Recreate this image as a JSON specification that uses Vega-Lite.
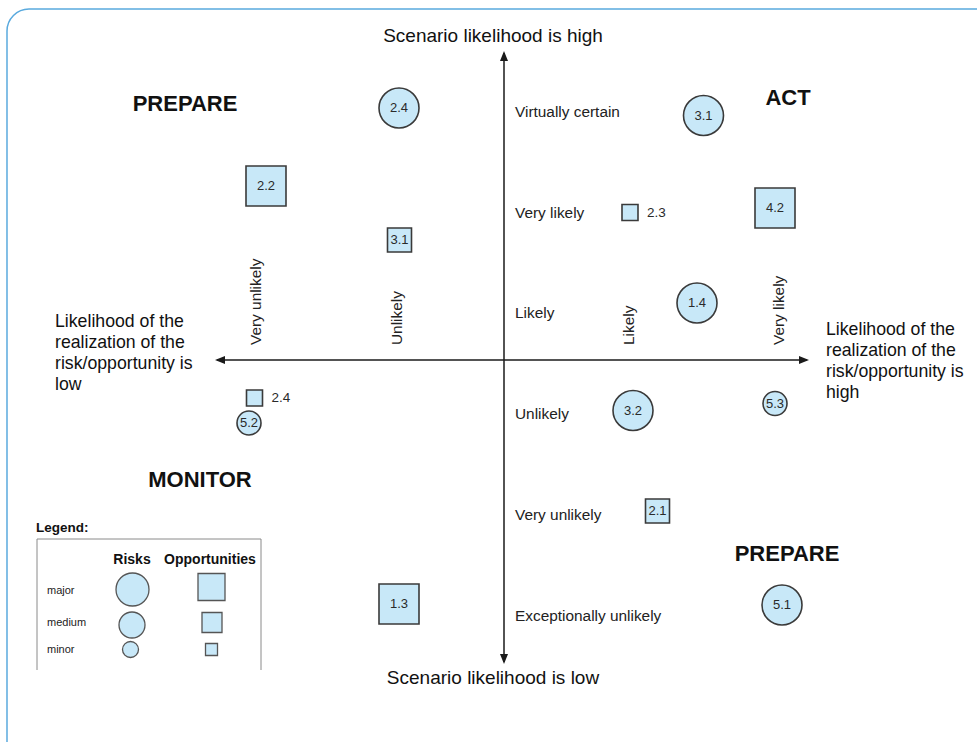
{
  "$schema": "https://vega.github.io/schema/vega-lite/v6.json",
  "width": 977,
  "height": 742,
  "autosize": {"type": "fit", "contains": "padding"},
  "padding": 0,
  "background": "white",
  "config": {"view": {"stroke": null}, "font": "Liberation Sans"},
  "datasets": {
    "border": [{"x": -498, "y": 351, "x2": 500, "y2": -420}],
    "axes": [
      {"x": -288, "y": 0, "x2": 302, "y2": 0},
      {"x": -1, "y": 307, "x2": -1, "y2": -302}
    ],
    "arrows": [
      {"x": -290, "y": 0, "dir": "left"},
      {"x": 304, "y": 0, "dir": "right"},
      {"x": -1, "y": 309, "dir": "up"},
      {"x": -1, "y": -304, "dir": "down"}
    ],
    "markers": [
      {"x": -106, "y": 252, "label": "2.4", "type": "risk", "magnitude": "major"},
      {"x": -239, "y": 174, "label": "2.2", "type": "opportunity", "magnitude": "major"},
      {"x": -105.5, "y": 120, "label": "3.1", "type": "opportunity", "magnitude": "medium"},
      {"x": 125, "y": 147.5, "label": "2.3", "type": "opportunity", "magnitude": "minor"},
      {"x": 198.5, "y": 244.5, "label": "3.1", "type": "risk", "magnitude": "major"},
      {"x": 270, "y": 152, "label": "4.2", "type": "opportunity", "magnitude": "major"},
      {"x": 192, "y": 57, "label": "1.4", "type": "risk", "magnitude": "major"},
      {"x": -250.5, "y": -38, "label": "2.4", "type": "opportunity", "magnitude": "minor"},
      {"x": -256, "y": -63, "label": "5.2", "type": "risk", "magnitude": "medium"},
      {"x": 128, "y": -50.5, "label": "3.2", "type": "risk", "magnitude": "major"},
      {"x": 270, "y": -43.5, "label": "5.3", "type": "risk", "magnitude": "medium"},
      {"x": 152.5, "y": -151, "label": "2.1", "type": "opportunity", "magnitude": "medium"},
      {"x": -106, "y": -244, "label": "1.3", "type": "opportunity", "magnitude": "major"},
      {"x": 277, "y": -245, "label": "5.1", "type": "risk", "magnitude": "major"}
    ],
    "quadrants": [
      {"x": -320, "y": 256, "label": "PREPARE"},
      {"x": 283, "y": 262, "label": "ACT"},
      {"x": -305, "y": -120, "label": "MONITOR"},
      {"x": 282, "y": -194, "label": "PREPARE"}
    ],
    "ends": [
      {"x": -12, "y": 324, "label": "Scenario likelihood is high"},
      {"x": -12, "y": -318, "label": "Scenario likelihood is low"}
    ],
    "sides": [
      {"x": -450, "y": 38, "label": "Likelihood of the\nrealization of the\nrisk/opportunity is\nlow"},
      {"x": 321, "y": 30, "label": "Likelihood of the\nrealization of the\nrisk/opportunity is\nhigh"}
    ],
    "ylevels": [
      {"x": 10, "y": 248, "label": "Virtually certain"},
      {"x": 10, "y": 147, "label": "Very likely"},
      {"x": 10, "y": 47, "label": "Likely"},
      {"x": 10, "y": -54, "label": "Unlikely"},
      {"x": 10, "y": -155, "label": "Very unlikely"},
      {"x": 10, "y": -256, "label": "Exceptionally unlikely"}
    ],
    "xlevels": [
      {"x": -249, "y": 15, "label": "Very unlikely"},
      {"x": -108, "y": 15, "label": "Unlikely"},
      {"x": 124, "y": 15, "label": "Likely"},
      {"x": 274, "y": 15, "label": "Very likely"}
    ],
    "legendBox": [
      {"x": -468, "y": -179, "x2": -244, "y2": -179},
      {"x": -468, "y": -179, "x2": -468, "y2": -310},
      {"x": -244, "y": -179, "x2": -244, "y2": -310}
    ],
    "legendTitle": [{"x": -469, "y": -168, "label": "Legend:"}],
    "legendHeads": [
      {"x": -373, "y": -200, "label": "Risks"},
      {"x": -295, "y": -200, "label": "Opportunities"}
    ],
    "legendRows": [
      {"x": -458, "y": -231, "label": "major"},
      {"x": -458, "y": -263, "label": "medium"},
      {"x": -458, "y": -290, "label": "minor"}
    ],
    "legendMarkers": [
      {"x": -372.5, "y": -229.5, "type": "risk", "magnitude": "major"},
      {"x": -373, "y": -265, "type": "risk", "magnitude": "medium"},
      {"x": -374.5, "y": -289.5, "type": "risk", "magnitude": "minor"},
      {"x": -293.5, "y": -227, "type": "opportunity", "magnitude": "major"},
      {"x": -293, "y": -262.5, "type": "opportunity", "magnitude": "medium"},
      {"x": -293.5, "y": -289.5, "type": "opportunity", "magnitude": "minor"}
    ]
  },
  "encoding": {
    "x": {"field": "x", "type": "quantitative", "scale": {"domain": [-505, 472], "nice": false, "zero": false}, "axis": null},
    "y": {"field": "y", "type": "quantitative", "scale": {"domain": [-382, 360], "nice": false, "zero": false}, "axis": null}
  },
  "layer": [
    {
      "data": {"name": "border"},
      "mark": {"type": "rect", "clip": true, "fill": null, "stroke": "#5aaade", "strokeWidth": 1.5, "cornerRadius": 22},
      "encoding": {"x2": {"field": "x2"}, "y2": {"field": "y2"}}
    },
    {
      "data": {"name": "axes"},
      "mark": {"type": "rule", "color": "#1a1a1a", "strokeWidth": 1.5},
      "encoding": {"x2": {"field": "x2"}, "y2": {"field": "y2"}}
    },
    {
      "data": {"name": "arrows"},
      "mark": {"type": "point", "filled": true, "color": "#1a1a1a", "opacity": 1, "size": 100, "strokeWidth": 0},
      "encoding": {
        "shape": {"field": "dir", "type": "nominal", "legend": null,
          "scale": {"domain": ["left", "right", "up", "down"],
            "range": ["M0,0L2,-0.8L2,0.8Z", "M0,0L-2,-0.8L-2,0.8Z", "M0,0L-0.8,2L0.8,2Z", "M0,0L-0.8,-2L0.8,-2Z"]}}
      }
    },
    {
      "data": {"name": "legendBox"},
      "mark": {"type": "rule", "color": "#8a8a8a", "strokeWidth": 1},
      "encoding": {"x2": {"field": "x2"}, "y2": {"field": "y2"}}
    },
    {
      "data": {"name": "markers"},
      "mark": {"type": "point", "fill": "#c8e8f8", "stroke": "#3a3a3a", "strokeWidth": 1.6, "opacity": 1, "fillOpacity": 1},
      "encoding": {
        "shape": {"field": "type", "type": "nominal", "legend": null, "scale": {"domain": ["risk", "opportunity"], "range": ["circle", "square"]}},
        "size": {"field": "magnitude", "type": "ordinal", "legend": null, "scale": {"type": "ordinal", "domain": ["minor", "medium", "major"], "range": [256, 576, 1600]}}
      }
    },
    {
      "data": {"name": "markers"},
      "transform": [{"filter": "!(datum.type == 'opportunity' && datum.magnitude == 'minor')"}],
      "mark": {"type": "text", "fontSize": 13, "color": "#2a2a2a", "align": "center", "baseline": "middle"},
      "encoding": {"text": {"field": "label"}}
    },
    {
      "data": {"name": "markers"},
      "transform": [{"filter": "datum.type == 'opportunity' && datum.magnitude == 'minor'"}],
      "mark": {"type": "text", "fontSize": 13.5, "color": "#2a2a2a", "align": "left", "baseline": "middle", "dx": 17},
      "encoding": {"text": {"field": "label"}}
    },
    {
      "data": {"name": "quadrants"},
      "mark": {"type": "text", "fontSize": 22, "fontWeight": "bold", "color": "#111111", "align": "center", "baseline": "middle"},
      "encoding": {"text": {"field": "label"}}
    },
    {
      "data": {"name": "ends"},
      "mark": {"type": "text", "fontSize": 19, "color": "#111111", "align": "center", "baseline": "middle"},
      "encoding": {"text": {"field": "label"}}
    },
    {
      "data": {"name": "sides"},
      "mark": {"type": "text", "fontSize": 17.7, "color": "#111111", "align": "left", "baseline": "middle", "lineBreak": "\n", "lineHeight": 21},
      "encoding": {"text": {"field": "label"}}
    },
    {
      "data": {"name": "ylevels"},
      "mark": {"type": "text", "fontSize": 15.4, "color": "#222222", "align": "left", "baseline": "middle"},
      "encoding": {"text": {"field": "label"}}
    },
    {
      "data": {"name": "xlevels"},
      "mark": {"type": "text", "fontSize": 15.4, "color": "#222222", "align": "left", "baseline": "middle", "angle": 270},
      "encoding": {"text": {"field": "label"}}
    },
    {
      "data": {"name": "legendTitle"},
      "mark": {"type": "text", "fontSize": 13.5, "fontWeight": "bold", "color": "#111111", "align": "left", "baseline": "middle"},
      "encoding": {"text": {"field": "label"}}
    },
    {
      "data": {"name": "legendHeads"},
      "mark": {"type": "text", "fontSize": 14, "fontWeight": "bold", "color": "#111111", "align": "center", "baseline": "middle"},
      "encoding": {"text": {"field": "label"}}
    },
    {
      "data": {"name": "legendRows"},
      "mark": {"type": "text", "fontSize": 11, "color": "#222222", "align": "left", "baseline": "middle"},
      "encoding": {"text": {"field": "label"}}
    },
    {
      "data": {"name": "legendMarkers"},
      "transform": [{"filter": "datum.type == 'risk'"}],
      "mark": {"type": "point", "shape": "circle", "fill": "#c8e8f8", "stroke": "#555555", "strokeWidth": 1.3, "opacity": 1, "fillOpacity": 1},
      "encoding": {
        "size": {"field": "magnitude", "type": "ordinal", "legend": null, "scale": {"type": "ordinal", "domain": ["minor", "medium", "major"], "range": [256, 676, 1089]}}
      }
    },
    {
      "data": {"name": "legendMarkers"},
      "transform": [{"filter": "datum.type == 'opportunity'"}],
      "mark": {"type": "point", "shape": "square", "fill": "#c8e8f8", "stroke": "#555555", "strokeWidth": 1.3, "opacity": 1, "fillOpacity": 1},
      "encoding": {
        "size": {"field": "magnitude", "type": "ordinal", "legend": null, "scale": {"type": "ordinal", "domain": ["minor", "medium", "major"], "range": [144, 400, 729]}}
      }
    }
  ],
  "resolve": {"scale": {"size": "independent", "shape": "independent"}}
}
